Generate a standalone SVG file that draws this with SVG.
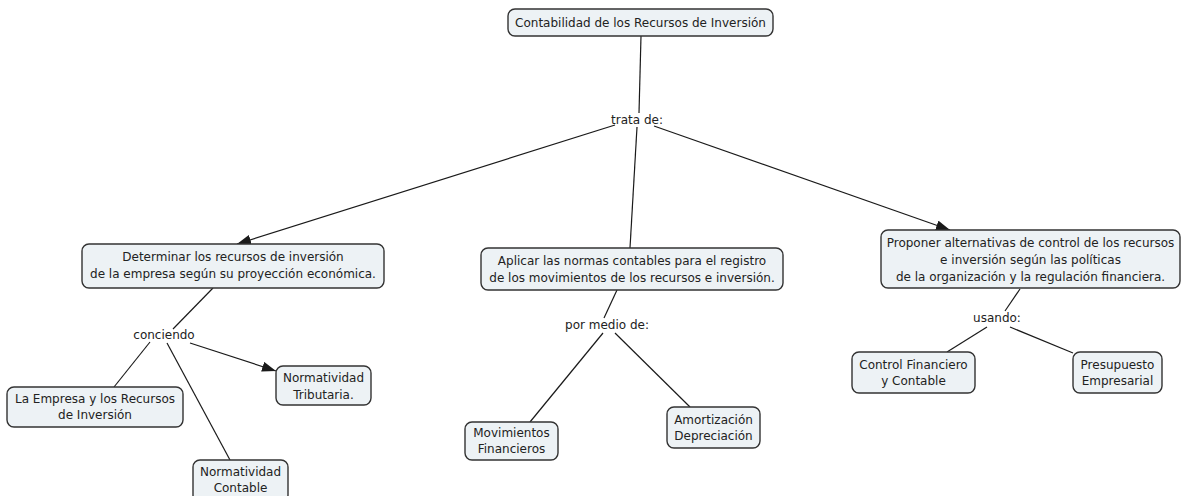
<svg xmlns="http://www.w3.org/2000/svg" width="1183" height="496" viewBox="0 0 1183 496">
<style>
.box{fill:#edf2f5;stroke:#333333;stroke-width:1.4}
.t{font-family:"DejaVu Sans",Verdana,sans-serif;font-size:12px;fill:#222222;text-anchor:middle}
.ln{stroke:#1a1a1a;stroke-width:1.2;fill:none}
</style>
<defs>
<marker id="ah" markerUnits="userSpaceOnUse" markerWidth="16" markerHeight="12" refX="14" refY="5" orient="auto">
<path d="M0,0 L14,5 L0,10 Z" fill="#1a1a1a"/>
</marker>
</defs>
<rect width="1183" height="496" fill="#ffffff"/>
<g id="connectors">
<line class="ln" x1="641" y1="36" x2="639" y2="113"/>
<line class="ln" x1="615" y1="125" x2="237" y2="244" marker-end="url(#ah)"/>
<line class="ln" x1="637" y1="127" x2="630" y2="248"/>
<line class="ln" x1="654" y1="126" x2="950" y2="230" marker-end="url(#ah)"/>
<line class="ln" x1="213" y1="288" x2="173" y2="329"/>
<line class="ln" x1="150" y1="342" x2="114" y2="387"/>
<line class="ln" x1="167" y1="343" x2="230" y2="460"/>
<line class="ln" x1="190" y1="343" x2="276" y2="371" marker-end="url(#ah)"/>
<line class="ln" x1="617" y1="290" x2="604" y2="318"/>
<line class="ln" x1="603" y1="333" x2="530" y2="422"/>
<line class="ln" x1="615" y1="333" x2="690" y2="407"/>
<line class="ln" x1="1020" y1="289" x2="1005" y2="311"/>
<line class="ln" x1="987" y1="327" x2="947" y2="352"/>
<line class="ln" x1="1010" y1="327" x2="1073" y2="353"/>
</g>
<g id="n-root">
<rect class="box" x="508" y="9" width="265" height="27" rx="7"/>
<text class="t" x="640.5" y="27">Contabilidad de los Recursos de Inversión</text>
</g>
<g id="l-trata">
<text class="t" x="637" y="124">trata de:</text>
</g>
<g id="n-determinar">
<rect class="box" x="82" y="244" width="302" height="44" rx="7"/>
<text class="t" x="233" y="261">Determinar los recursos de inversión</text>
<text class="t" x="233" y="278">de la empresa según su proyección económica.</text>
</g>
<g id="n-aplicar">
<rect class="box" x="481" y="248" width="302" height="42" rx="7"/>
<text class="t" x="632" y="265">Aplicar las normas contables para el registro</text>
<text class="t" x="632" y="282">de los movimientos de los recursos e inversión.</text>
</g>
<g id="n-proponer">
<rect class="box" x="881" y="230" width="299" height="58" rx="7"/>
<text class="t" x="1030.5" y="247">Proponer alternativas de control de los recursos</text>
<text class="t" x="1030.5" y="264">e inversión según las políticas</text>
<text class="t" x="1030.5" y="281">de la organización y la regulación financiera.</text>
</g>
<g id="l-conciendo">
<text class="t" x="164" y="339">conciendo</text>
</g>
<g id="n-empresa">
<rect class="box" x="7" y="387" width="176" height="40" rx="7"/>
<text class="t" x="95" y="403">La Empresa y los Recursos</text>
<text class="t" x="95" y="419">de Inversión</text>
</g>
<g id="n-tributaria">
<rect class="box" x="276" y="366" width="95" height="39" rx="7"/>
<text class="t" x="323.5" y="382">Normatividad</text>
<text class="t" x="323.5" y="399">Tributaria.</text>
</g>
<g id="n-contable">
<rect class="box" x="193" y="460" width="95" height="42" rx="7"/>
<text class="t" x="240.5" y="476">Normatividad</text>
<text class="t" x="240.5" y="492">Contable</text>
</g>
<g id="l-pormedio">
<text class="t" x="607" y="329">por medio de:</text>
</g>
<g id="n-movimientos">
<rect class="box" x="465" y="422" width="93" height="38" rx="7"/>
<text class="t" x="511.5" y="437">Movimientos</text>
<text class="t" x="511.5" y="453">Financieros</text>
</g>
<g id="n-amortizacion">
<rect class="box" x="667" y="407" width="93" height="41" rx="7"/>
<text class="t" x="713.5" y="424">Amortización</text>
<text class="t" x="713.5" y="440">Depreciación</text>
</g>
<g id="l-usando">
<text class="t" x="997" y="322">usando:</text>
</g>
<g id="n-control">
<rect class="box" x="852" y="352" width="123" height="41" rx="7"/>
<text class="t" x="913.5" y="369">Control Financiero</text>
<text class="t" x="913.5" y="385">y Contable</text>
</g>
<g id="n-presupuesto">
<rect class="box" x="1073" y="352" width="89" height="41" rx="7"/>
<text class="t" x="1117.5" y="369">Presupuesto</text>
<text class="t" x="1117.5" y="385">Empresarial</text>
</g>
</svg>
